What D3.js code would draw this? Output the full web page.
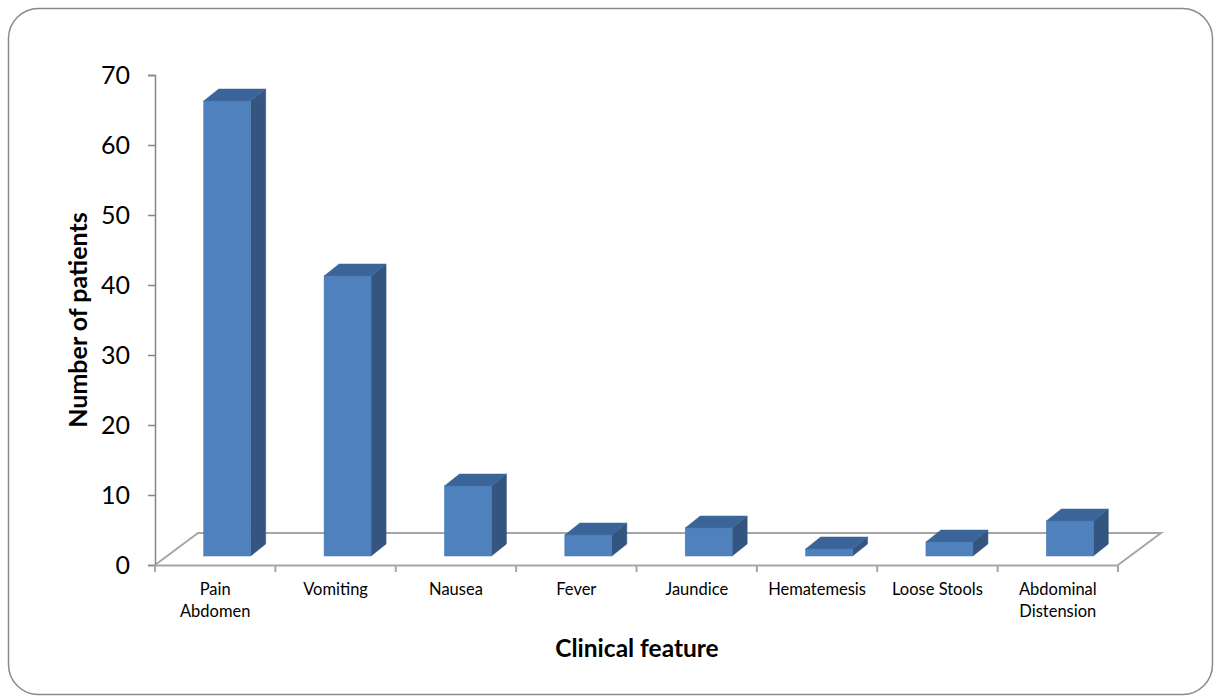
<!DOCTYPE html>
<html>
<head>
<meta charset="utf-8">
<script src="https://cdn.jsdelivr.net/npm/d3@7"></script>
<style>
  html, body { margin: 0; padding: 0; background: #fff; }
  svg { display: block; }
</style>
</head>
<body>
<svg id="chart" width="1215" height="698"></svg>
<script>
// Clinical features at presentation
const categories = ["Pain Abdomen", "Vomiting", "Nausea", "Fever", "Jaundice", "Hematemesis", "Loose Stools", "Abdominal Distension"];
const categoryLines = [["Pain", "Abdomen"], ["Vomiting"], ["Nausea"], ["Fever"], ["Jaundice"], ["Hematemesis"], ["Loose Stools"], ["Abdominal", "Distension"]];
const patients = [65, 40, 10, 3, 4, 1, 2, 5];
const yTicks = [0, 10, 20, 30, 40, 50, 60, 70];

(function () {
const svg = d3.select("#chart");
const font = "Lato, 'Open Sans', sans-serif";

// outer frame
svg.append("rect")
  .attr("x", 8.5).attr("y", 8.5)
  .attr("width", 1204).attr("height", 686)
  .attr("rx", 30).attr("ry", 30)
  .attr("fill", "#fff").attr("stroke", "#8a8a8a").attr("stroke-width", 1.5);

const plotLeft = 155, plotRight = 1118, plotTop = 75, plotBottom = 565;
// floor depth offset and bar depth offsets
const floorDx = 43, floorDy = -32;
const barShiftX = 12, barShiftY = -9;
const barDx = 15, barDy = -12;

const x = d3.scaleBand().domain(categories).range([plotLeft, plotRight]).paddingInner(0).paddingOuter(0);
const y = d3.scaleLinear().domain([0, 70]).range([plotBottom, plotTop]);

const gridColor = "#a6a6a6";

// floor outline
const floor = svg.append("g").attr("stroke", gridColor).attr("stroke-width", 2).attr("fill", "none");
floor.append("path").attr("d", `M${plotLeft},${plotBottom} L${plotLeft + floorDx},${plotBottom + floorDy} L${plotRight + floorDx},${plotBottom + floorDy} L${plotRight},${plotBottom}`);

// y axis
const yAxis = d3.axisLeft(y).tickValues(yTicks).tickSize(7).tickPadding(18);
const gy = svg.append("g").attr("transform", `translate(${plotLeft},0)`).call(yAxis);
gy.select(".domain").attr("stroke", "#868686").attr("stroke-width", 1.5);
gy.selectAll(".tick line").attr("stroke", "#868686").attr("stroke-width", 1.5);
gy.selectAll(".tick text").attr("font-family", font).attr("font-size", 25).attr("fill", "#000");

// x axis along floor front edge
const xAxis = d3.axisBottom(x).tickSizeInner(0).tickSizeOuter(0).tickFormat("");
const gx = svg.append("g").attr("transform", `translate(0,${plotBottom})`).call(xAxis);
gx.select(".domain").attr("stroke", gridColor).attr("stroke-width", 2);
gx.selectAll(".tick").remove();
// category separators
const sepX = categories.map(c => x(c)).concat([plotRight]);
gx.selectAll("line.sep").data(sepX).join("line")
  .attr("class", "sep")
  .attr("x1", d => d).attr("x2", d => d)
  .attr("y1", 0).attr("y2", 7)
  .attr("stroke", gridColor).attr("stroke-width", 2);

// category labels
const labels = svg.append("g").attr("font-family", font).attr("font-size", 16.5).attr("fill", "#000").attr("text-anchor", "middle");
categories.forEach((c, i) => {
  const t = labels.append("text").attr("x", x(c) + x.bandwidth() / 2).attr("y", 595);
  categoryLines[i].forEach((ln, j) => {
    t.append("tspan").attr("x", x(c) + x.bandwidth() / 2).attr("dy", j === 0 ? 0 : 22).text(ln);
  });
});

// 3D bars
const barW = 47;
const bars = svg.append("g");
categories.forEach((c, i) => {
  const v = patients[i];
  const x0 = x(c) + x.bandwidth() / 2 - barW / 2 + barShiftX;
  const x1 = x0 + barW;
  const yb = y(0) + barShiftY;
  const yt = y(v) + barShiftY;
  const g = bars.append("g");
  // side face
  g.append("path")
    .attr("d", `M${x1},${yt} L${x1 + barDx},${yt + barDy} L${x1 + barDx},${yb + barDy} L${x1},${yb} Z`)
    .attr("fill", "#34557f").attr("stroke", "#34557f").attr("stroke-width", 0.5);
  // top face
  g.append("path")
    .attr("d", `M${x0},${yt} L${x0 + barDx},${yt + barDy} L${x1 + barDx},${yt + barDy} L${x1},${yt} Z`)
    .attr("fill", "#3b6598").attr("stroke", "#3b6598").attr("stroke-width", 0.5);
  // front face
  g.append("rect")
    .attr("x", x0).attr("y", yt)
    .attr("width", barW).attr("height", yb - yt)
    .attr("fill", "#4f81bd").attr("stroke", "#4a7ab4").attr("stroke-width", 0.5);
});

// axis titles
svg.append("text")
  .attr("transform", `translate(87,320) rotate(-90)`)
  .attr("text-anchor", "middle")
  .attr("font-family", font).attr("font-size", 25).attr("font-weight", "bold")
  .text("Number of patients");

svg.append("text")
  .attr("x", 637).attr("y", 657)
  .attr("text-anchor", "middle")
  .attr("font-family", font).attr("font-size", 24.5).attr("font-weight", "bold")
  .text("Clinical feature");
})();
</script>
</body>
</html>
